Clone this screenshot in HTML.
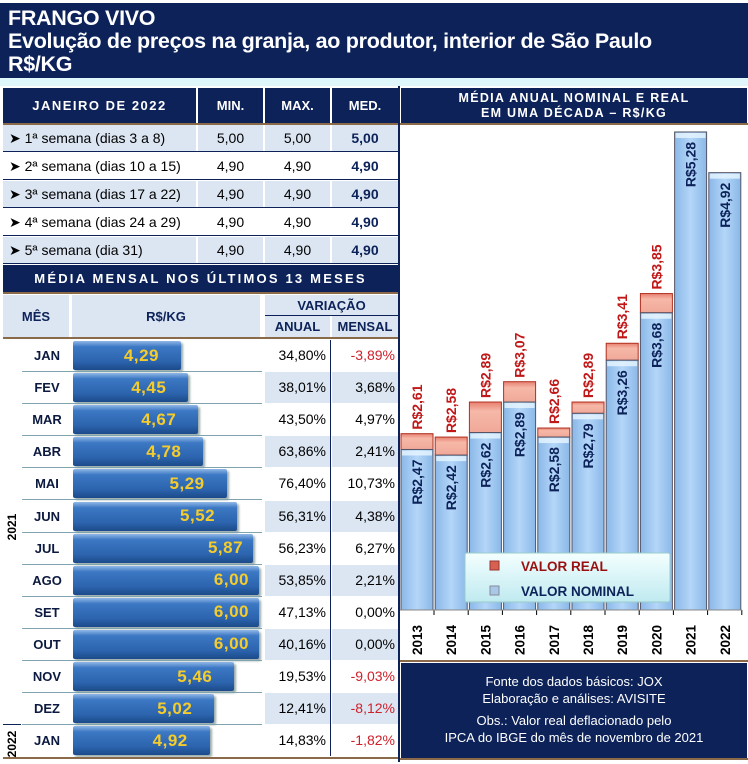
<!DOCTYPE html>
<html><head><meta charset="utf-8"><style>
*{margin:0;padding:0;box-sizing:border-box}
body{width:748px;height:762px;background:#fff;position:relative;overflow:hidden;font-family:"Liberation Sans",Arial,sans-serif}
.a{position:absolute}
.nv{background:#0c2259;color:#fff;font-weight:bold}
.c{display:flex;align-items:center;justify-content:center}
.r{display:flex;align-items:center;justify-content:flex-end}
.lb{background:#dce6f2}
</style></head><body>
<div class="a nv" style="left:0;top:3px;width:748px;height:75px;padding:4px 0 0 8px;font-size:21.5px;line-height:23px;letter-spacing:-0.3px">FRANGO VIVO<br>Evolução de preços na granja, ao produtor, interior de São Paulo<br>R$/KG</div>
<div class="a" style="left:0;top:78px;width:748px;height:8px;background:#dff7fb"></div>

<div class="a nv c" style="left:3px;top:88px;width:193px;height:35px;font-size:13px;letter-spacing:1.5px">JANEIRO DE 2022</div>
<div class="a nv c" style="left:198px;top:88px;width:65px;height:35px;font-size:13px">MIN.</div>
<div class="a nv c" style="left:265px;top:88px;width:65px;height:35px;font-size:13px">MAX.</div>
<div class="a nv c" style="left:332px;top:88px;width:66px;height:35px;font-size:13px">MED.</div>
<div class="a" style="left:3px;top:123px;width:395px;height:2px;background:#8b6a4a"></div>
<div id="wk"></div>

<div class="a nv c" style="left:3px;top:265px;width:395px;height:27px;font-size:13px;letter-spacing:2.2px">MÉDIA MENSAL NOS ÚLTIMOS 13 MESES</div>
<div class="a" style="left:3px;top:292px;width:395px;height:2px;background:#8b6a4a"></div>
<div class="a lb c" style="left:3px;top:295px;width:66px;height:42px;font-size:13px;font-weight:bold;color:#0c2259">MÊS</div>
<div class="a lb c" style="left:72px;top:295px;width:188px;height:42px;font-size:13px;font-weight:bold;color:#0c2259">R$/KG</div>
<div class="a lb c" style="left:265px;top:295px;width:133px;height:20px;font-size:13px;font-weight:bold;color:#0c2259">VARIAÇÃO</div>
<div class="a" style="left:265px;top:315px;width:133px;height:1px;background:#0c2259"></div>
<div class="a lb c" style="left:265px;top:316px;width:65px;height:21px;font-size:13px;font-weight:bold;color:#0c2259">ANUAL</div>
<div class="a lb c" style="left:332px;top:316px;width:66px;height:21px;font-size:13px;font-weight:bold;color:#0c2259">MENSAL</div>
<div class="a" style="left:3px;top:337px;width:395px;height:2px;background:#8b6a4a"></div>
<div id="mo"></div>
<div class="a" style="left:330px;top:340px;width:1px;height:416px;background:#0c2259"></div>
<div class="a" style="left:-8px;top:520px;width:40px;font-size:12px;font-weight:bold;transform:rotate(-90deg);text-align:center">2021</div>
<div class="a" style="left:-8px;top:737px;width:40px;font-size:12px;font-weight:bold;transform:rotate(-90deg);text-align:center">2022</div>
<div class="a" style="left:3px;top:724px;width:18px;height:1px;background:#0c2259"></div>
<div class="a" style="left:3px;top:757px;width:395px;height:2px;background:#8b6a4a"></div>

<div class="a" style="left:398px;top:86px;width:2px;height:676px;background:#0c2259"></div>
<div class="a nv c" style="left:401px;top:88px;width:346px;height:35px;font-size:12.5px;letter-spacing:1.3px;line-height:15px;text-align:center">MÉDIA ANUAL NOMINAL E REAL<br>EM UMA DÉCADA – R$/KG</div>
<div class="a" style="left:400px;top:123px;width:348px;height:2px;background:#8b6a4a"></div>
<svg class="a" style="left:400px;top:125px" width="348" height="537" id="ch"></svg>
<div class="a" style="left:400px;top:660px;width:348px;height:2px;background:#8b6a4a"></div>
<div class="a nv" style="left:401px;top:663px;width:346px;height:95px;font-weight:normal;font-size:13px;text-align:center;line-height:17px;padding-top:10px">Fonte dos dados básicos: JOX<br>Elaboração e análises: AVISITE<div style="height:5px"></div>Obs.: Valor real deflacionado pelo<br>IPCA do IBGE do mês de novembro de 2021</div>
<div class="a" style="left:400px;top:758px;width:348px;height:2px;background:#8b6a4a"></div>

<script>
var wk=[["1ª semana (dias 3 a 8)","5,00"],["2ª semana (dias 10 a 15)","4,90"],["3ª semana (dias 17 a 22)","4,90"],["4ª semana (dias 24 a 29)","4,90"],["5ª semana (dia 31)","4,90"]];
var h="";
wk.forEach(function(w,i){var y=125+i*28;var bg=i%2==0?"#dce6f2":"#fff";
h+='<div class="a" style="left:3px;top:'+y+'px;width:193px;height:26px;background:'+bg+';font-size:14px;line-height:26px;padding-left:6px">➤ '+w[0]+'</div>';
h+='<div class="a c" style="left:198px;top:'+y+'px;width:65px;height:26px;background:'+bg+';font-size:14px">'+w[1]+'</div>';
h+='<div class="a c" style="left:265px;top:'+y+'px;width:65px;height:26px;background:'+bg+';font-size:14px">'+w[1]+'</div>';
h+='<div class="a c" style="left:332px;top:'+y+'px;width:66px;height:26px;background:'+bg+';font-size:14px;font-weight:bold;color:#0c2259">'+w[1]+'</div>';
h+='<div class="a" style="left:3px;top:'+(y+26)+'px;width:395px;height:1px;background:#0c2259"></div>';});
document.getElementById("wk").outerHTML=h;
var mo=[["JAN",4.29,"34,80%","-3,89%"],["FEV",4.45,"38,01%","3,68%"],["MAR",4.67,"43,50%","4,97%"],["ABR",4.78,"63,86%","2,41%"],["MAI",5.29,"76,40%","10,73%"],["JUN",5.52,"56,31%","4,38%"],["JUL",5.87,"56,23%","6,27%"],["AGO",6.00,"53,85%","2,21%"],["SET",6.00,"47,13%","0,00%"],["OUT",6.00,"40,16%","0,00%"],["NOV",5.46,"19,53%","-9,03%"],["DEZ",5.02,"12,41%","-8,12%"],["JAN",4.92,"14,83%","-1,82%"]];
h="";
mo.forEach(function(m,i){var y=340+i*32.1;var bg=i%2==1?"#dce6f2":"#fff";var w=45.6*m[1]-87.6;
h+='<div class="a c" style="left:22px;top:'+y+'px;width:50px;height:31px;font-size:13px;font-weight:bold;color:#0c1a40">'+m[0]+'</div>';
h+='<div class="a r" style="left:73px;top:'+(y+1)+'px;width:'+w+'px;height:29px;border-radius:2px;background:linear-gradient(#8fb7e6 0%,#3c78c4 20%,#2c64ae 70%,#1b4a8a 100%);box-shadow:2px 2px 2px #9aa;padding-right:'+(w>170?10:22)+'px;font-size:17px;font-weight:bold;color:#f4cc2c;letter-spacing:0.5px">'+m[1].toFixed(2).replace(".",",")+'</div>';
h+='<div class="a" style="left:265px;top:'+y+'px;width:65px;height:31px;background:'+bg+';font-size:14px;line-height:31px;text-align:right;padding-right:4px">'+m[2]+'</div>';
h+='<div class="a" style="left:332px;top:'+y+'px;width:66px;height:31px;background:'+bg+';font-size:14px;line-height:31px;text-align:right;padding-right:3px;color:'+(m[3][0]=="-"?"#d0202a":"#000")+'">'+m[3]+'</div>';
if(i<12)h+='<div class="a" style="left:22px;top:'+(y+31)+'px;width:240px;height:1px;background:#7fa4b0"></div>';});
document.getElementById("mo").outerHTML=h;
var nom=[2.47,2.42,2.62,2.89,2.58,2.79,3.26,3.68,5.28,4.92],re=[2.61,2.58,2.89,3.07,2.66,2.89,3.41,3.85,null,null];
function Y(v){return 728.6-113*v-125;}
var s='<defs><linearGradient id="b" x1="0" x2="1"><stop offset="0" stop-color="#8ab8e8"/><stop offset="0.5" stop-color="#b4d6f8"/><stop offset="1" stop-color="#8ab8e8"/></linearGradient><linearGradient id="p" x1="0" y1="0" x2="0" y2="1"><stop offset="0" stop-color="#e88070"/><stop offset="0.3" stop-color="#f6b8a8"/><stop offset="1" stop-color="#f0a898"/></linearGradient><linearGradient id="lg" x1="0" y1="0" x2="0" y2="1"><stop offset="0" stop-color="#f4ffff"/><stop offset="1" stop-color="#bfeaf0"/></linearGradient></defs>';
var base=485;
for(var i=0;i<10;i++){var x=1+i*34.2,w=32;var yn=Y(nom[i]);
 if(re[i]){var yr=Y(re[i]);s+='<rect x="'+x+'" y="'+yr+'" width="'+w+'" height="'+(yn-yr)+'" fill="url(#p)" stroke="#b03020" stroke-width="1"/>';}
 s+='<rect x="'+x+'" y="'+yn+'" width="'+w+'" height="'+(base-yn)+'" fill="url(#b)" stroke="#556" stroke-width="1"/>';
 s+='<rect x="'+(x+1)+'" y="'+(yn+1)+'" width="'+(w-2)+'" height="5" fill="#e8f6ff" opacity="0.8"/>';
 s+='<text transform="translate('+(x+w/2+5)+','+(yn+10)+') rotate(-90)" text-anchor="end" font-size="14" font-weight="bold" fill="#0c2259">R$'+nom[i].toFixed(2).replace(".",",")+'</text>';
 if(re[i])s+='<text transform="translate('+(x+w/2+5)+','+(Y(re[i])-4)+') rotate(-90)" text-anchor="start" font-size="14" font-weight="bold" fill="#c01818">R$'+re[i].toFixed(2).replace(".",",")+'</text>';
 s+='<text transform="translate('+(x+w/2+5)+','+(530)+') rotate(-90)" text-anchor="start" font-size="13.5" font-weight="bold" fill="#000">'+(2013+i)+'</text>';
 s+='<line x1="'+(x+w+1)+'" y1="485" x2="'+(x+w+1)+'" y2="490" stroke="#000"/>';
}
s+='<line x1="0" y1="485" x2="342" y2="485" stroke="#888"/>';
s+='<rect x="65" y="428" width="205" height="49" fill="url(#lg)" stroke="#9cc" rx="2"/>';
s+='<rect x="90" y="436" width="9" height="9" fill="#d86050" stroke="#933"/><text x="121" y="446" font-size="13.5" font-weight="bold" fill="#9a1010">VALOR REAL</text>';
s+='<rect x="90" y="461" width="9" height="9" fill="#a8c8e8" stroke="#889"/><text x="121" y="471" font-size="13.5" font-weight="bold" fill="#0c2259">VALOR NOMINAL</text>';
document.getElementById("ch").innerHTML=s;
</script>
</body></html>
